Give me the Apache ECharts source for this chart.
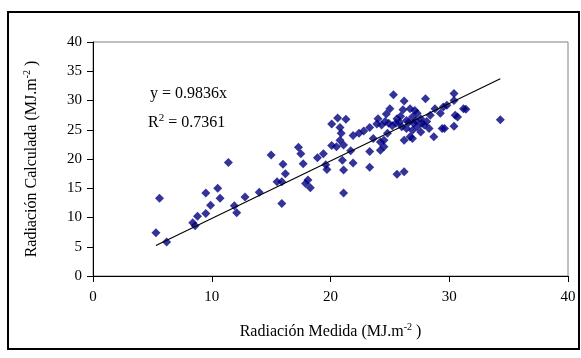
<!DOCTYPE html>
<html>
<head>
<meta charset="utf-8">
<script src="https://cdn.jsdelivr.net/npm/echarts@6/dist/echarts.min.js"></script>
<style>html,body{margin:0;padding:0;background:#fff;}#c{width:581px;height:358px;}</style>
</head>
<body>
<div id="c"></div>
<script>
// Measured radiation (x) and calculated radiation (y), MJ.m-2
const xMeasured = [5.3,5.6,6.2,8.4,8.6,8.8,9.5,9.5,9.9,10.5,10.7,11.4,11.9,12.1,12.8,14.0,15.0,15.5,15.9,16.0,15.9,16.2,17.3,17.5,17.7,17.9,18.1,18.3,18.9,19.4,19.6,19.7,
  20.1,20.6,20.8,20.9,21.3,20.8,21.1,20.5,20.1,21.7,21.0,21.1,21.1,21.9,21.9,22.4,22.8,23.3,23.3,23.3,23.6,23.9,24.0,24.2,24.5,24.2,24.5,24.3,24.7,24.8,24.9,25.0,25.3,25.5,25.6,25.6,26.0,26.2,26.2,26.2,26.4,26.4,26.1,26.7,26.7,26.9,27.0,27.3,26.9,26.9,27.1,27.6,27.7,27.3,27.6,28.0,28.4,28.7,28.8,29.25,29.4,29.6,29.5,29.8,30.4,30.4,30.4,30.5,30.7,31.2,31.4,34.3,
  26.6,27.2,27.9,28.3,28.1,25.8,25.2,24.6,25.9];
const yCalculated = [7.4,13.3,5.8,9.1,8.6,10.2,14.2,10.7,12.1,15.0,13.3,19.4,12.0,10.8,13.5,14.3,20.7,16.1,16.1,19.1,12.4,17.5,22.0,20.9,19.2,15.8,16.4,15.1,20.2,20.9,19.0,18.2,
  26.0,27.0,25.4,24.4,26.8,23.2,22.4,22.1,22.3,21.4,19.8,14.2,18.1,19.3,24.0,24.4,24.8,25.4,21.3,18.6,23.5,26.0,26.9,22.9,23.2,21.5,22.1,25.8,27.7,24.4,26.1,28.6,31.0,26.1,26.9,17.4,25.5,29.9,17.8,23.2,26.6,25.2,28.4,28.6,23.8,24.9,26.1,27.8,27.2,23.5,28.3,26.9,26.1,25.5,24.6,30.3,27.5,23.8,28.6,27.8,25.2,25.2,28.9,29.2,31.2,30.0,25.6,27.5,27.2,28.6,28.5,26.7,
  26.3,26.5,25.8,25.2,26.4,26.3,25.7,26.4,27.3];
const xTicks = [0, 10, 20, 30, 40];
const yTicks = [0, 5, 10, 15, 20, 25, 30, 35, 40];
const trendSlope = 0.9836;
const trendR2 = 0.7361;
const trendRange = [5.3, 34.3];

const points = xMeasured.map((x, i) => [x, yCalculated[i]]);
const trendLine = trendRange.map(x => [x, trendSlope * x]);
const FONT = 'Liberation Serif';

const chart = echarts.init(document.getElementById('c'), null, {renderer: 'canvas'});
chart.setOption({
  animation: false,
  backgroundColor: '#ffffff',
  grid: {left: 93, top: 42, width: 475, height: 234, show: true, borderColor: '#808080', borderWidth: 1, containLabel: false},
  xAxis: {
    type: 'value', min: xTicks[0], max: xTicks[xTicks.length - 1], interval: 10,
    axisLine: {onZero: false, lineStyle: {color: '#000', width: 1}},
    axisTick: {inside: false, length: 6, lineStyle: {color: '#000'}},
    splitLine: {show: false},
    axisLabel: {fontFamily: FONT, fontSize: 15, color: '#000', margin: 14},
    name: '{t|Radiación Medida (MJ.m}{s|-2}{t| )}',
    nameLocation: 'middle', nameGap: 46,
    nameTextStyle: {rich: {t: {fontFamily: FONT, fontSize: 16, color: '#000'}, s: {fontFamily: FONT, fontSize: 10, color: '#000', padding: [0, 0, 9, 0]}}}
  },
  yAxis: {
    type: 'value', min: yTicks[0], max: yTicks[yTicks.length - 1], interval: 5,
    axisLine: {onZero: false, lineStyle: {color: '#000', width: 1}},
    axisTick: {inside: false, length: 6, lineStyle: {color: '#000'}},
    splitLine: {show: false},
    axisLabel: {fontFamily: FONT, fontSize: 15, color: '#000', margin: 11},
    name: '{t|Radiación Calculada (MJ.m}{s|-2}{t| )}',
    nameLocation: 'middle', nameGap: 52,
    nameTextStyle: {rich: {t: {fontFamily: FONT, fontSize: 16, color: '#000'}, s: {fontFamily: FONT, fontSize: 10, color: '#000', padding: [0, 0, 9, 0]}}}
  },
  series: [
    {type: 'scatter', data: points, symbol: 'diamond', symbolSize: 9, itemStyle: {color: '#000080'}, z: 3},
    {type: 'line', data: trendLine, symbol: 'none', lineStyle: {color: '#000', width: 1.1}, z: 4}
  ],
  graphic: [
    {type: 'rect', shape: {x: 8, y: 12, width: 571, height: 337}, style: {fill: 'none', stroke: '#000', lineWidth: 2}, silent: true},
    {type: 'text', left: 150, top: 86, style: {text: 'y = ' + trendSlope + 'x', font: '16px "Liberation Serif"', fill: '#000'}},
    {type: 'text', left: 148, top: 113, style: {text: '{t|R}{s|2}{t| = ' + trendR2 + '}', rich: {t: {fontFamily: FONT, fontSize: 16, fill: '#000'}, s: {fontFamily: FONT, fontSize: 11, fill: '#000', padding: [0, 0, 9, 0]}}}}
  ]
});
</script>
</body>
</html>
